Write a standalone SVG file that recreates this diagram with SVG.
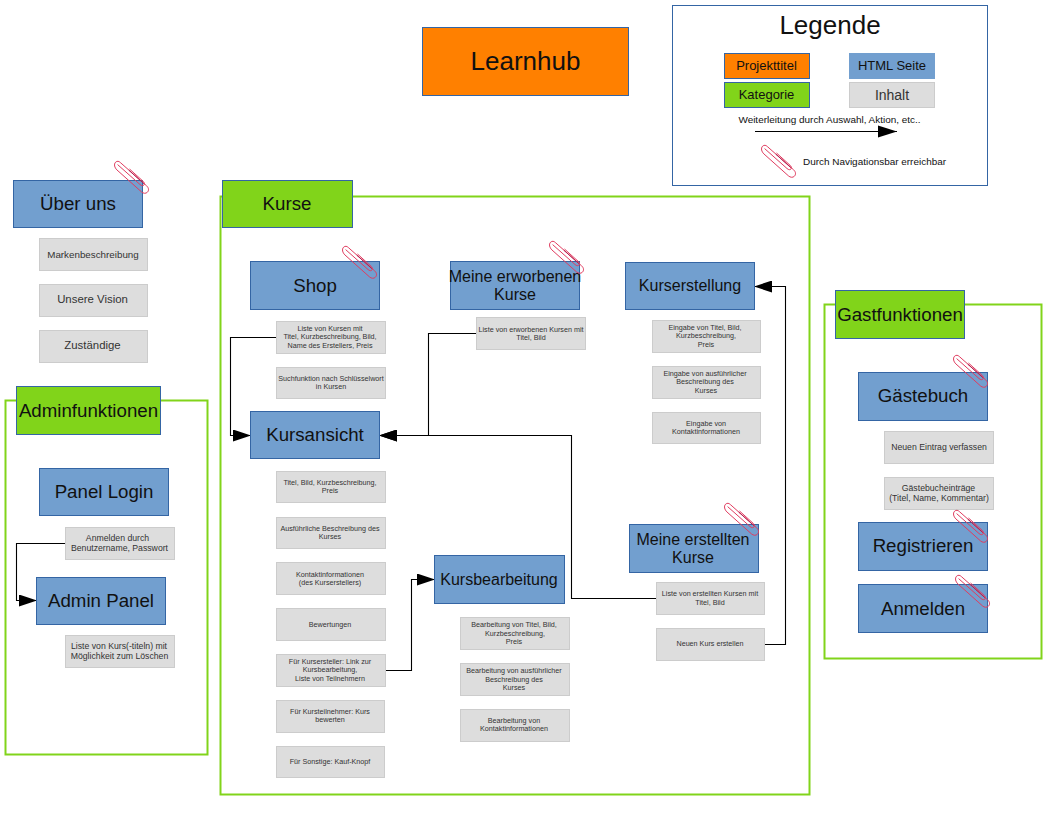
<svg xmlns="http://www.w3.org/2000/svg" xmlns:xlink="http://www.w3.org/1999/xlink" width="1056" height="816" viewBox="0 0 1056 816">
<style>
text{font-family:"Liberation Sans",Arial,sans-serif;text-anchor:middle;fill:#111}
.p rect{fill:#729fcf;stroke:#3465a4;stroke-width:1}
.k rect{fill:#81d41a;stroke:#3465a4;stroke-width:1}
.c rect{fill:#dddddd;stroke:#cccccc;stroke-width:1}
.p text,.k text{font-size:18.7px}
.c text{font-size:7.2px;fill:#333}
.f{fill:none;stroke:#81d41a;stroke-width:2}
.l{fill:none;stroke:#000;stroke-width:1.1}
.s16 text{font-size:16px}
.s13 text{font-size:13px}
.s86 text{font-size:8.7px}
</style>
<defs>
<marker id="a" markerUnits="userSpaceOnUse" markerWidth="18" markerHeight="12" refX="17" refY="6" orient="auto"><path d="M0 0L18 6L0 12Z" fill="#000"/></marker>
<g id="clip" fill="none" stroke="#e03c5f" stroke-width="1">
<path d="M1.6 1.2C3.2-.3 5 .2 6.3 1.5L32.6 24.8C35 27 35 29.6 33.4 31.2C31.8 32.8 29.4 32.6 27.4 30.8L3 9C.6 6.8-.4 3.2 1.6 1.2Z"/>
<path d="M3.6 3.6L26 23.5C27.6 25 29.2 25 30 24C30.8 23 30.4 21.4 29 20.2L15.5 8"/>
<path d="M14.8 9.2L29.8 22.6" stroke="#b02050"/>
</g>
</defs>
<g id="frames">
<rect class="f" x="220.500" y="196.500" width="589" height="598"/>
<rect class="f" x="5.500" y="400.500" width="202" height="354"/>
<rect class="f" x="824.500" y="304.500" width="217" height="354"/>
</g>
<g id="connectors">
<path class="l" d="M276 337.500H230.500V435.500H250" marker-end="url(#a)"/>
<path class="l" d="M476 333.500H428.500V435.500H380" marker-end="url(#a)"/>
<path class="l" d="M656 598.500H571.500V435.500H380" marker-end="url(#a)"/>
<path class="l" d="M737 644.500H785.500V286.500H755" marker-end="url(#a)"/>
<path class="l" d="M385 670.500H411.500V579.500H434" marker-end="url(#a)"/>
<path class="l" d="M65 543.500H16.500V600.500H36" marker-end="url(#a)"/>
</g>
<g id="title" class="p"><rect x="422.500" y="27.500" width="206" height="68" style="fill:#ff8000"/><text x="525.500" y="70" style="font-size:26px">Learnhub</text></g>
<g id="legend">
<rect x="672.500" y="5.500" width="315" height="180" fill="#fff" stroke="#3465a4"/>
<text x="830" y="34" font-size="26">Legende</text>
<g class="p s13"><rect x="724.500" y="53.500" width="85" height="25" style="fill:#ff8000"/><text x="766.500" y="70">Projekttitel</text></g>
<g class="p s13"><rect x="849.500" y="53.500" width="85" height="25" style="stroke:#729fcf"/><text x="892" y="70">HTML Seite</text></g>
<g class="k s13"><rect x="724.500" y="82.500" width="85" height="25"/><text x="766.500" y="99">Kategorie</text></g>
<g class="c"><rect x="849.500" y="82.500" width="85" height="25"/><text x="892" y="100" style="font-size:14px">Inhalt</text></g>
<text x="829.500" y="123" font-size="9.950" fill="#222">Weiterleitung durch Auswahl, Aktion, etc..</text>
<path d="M755 131.500H897" stroke="#000" fill="none"/><path d="M878 125.500L897 131.500L878 137.500Z" fill="#000"/>
<use xlink:href="#clip" x="761" y="145"/>
<text x="874.500" y="165" font-size="9.950" fill="#222">Durch Navigationsbar erreichbar</text>
</g>
<g id="ueber-uns" class="p"><rect x="13.500" y="180.500" width="129" height="47"/><text x="78" y="210">Über uns</text></g>
<g id="c1" class="c"><rect x="39.500" y="238.500" width="108" height="32"/><text x="93" y="258" style="font-size:9.800px">Markenbeschreibung</text></g>
<g id="c2" class="c"><rect x="39.500" y="284.500" width="108" height="32"/><text x="92.500" y="303" style="font-size:11.400px">Unsere Vision</text></g>
<g id="c3" class="c"><rect x="39.500" y="330.500" width="108" height="32"/><text x="92.500" y="349" style="font-size:11.400px">Zuständige</text></g>
<g id="kurse" class="k"><rect x="222.500" y="180.500" width="130" height="47"/><text x="287" y="210">Kurse</text></g>
<g id="shop" class="p"><rect x="250.500" y="261.500" width="129" height="48"/><text x="315" y="292">Shop</text></g>
<g id="c4" class="c"><rect x="276.500" y="321.500" width="109" height="32"/><text x="330" y="331">Liste von Kursen mit</text><text x="330" y="339">Titel, Kurzbeschreibung, Bild,</text><text x="330" y="348">Name des Erstellers, Preis</text></g>
<g id="c5" class="c"><rect x="276.500" y="367.500" width="109" height="31"/><text x="331" y="381">Suchfunktion nach Schlüsselwort</text><text x="331" y="389">in Kursen</text></g>
<g id="kursansicht" class="p"><rect x="250.500" y="411.500" width="129" height="47"/><text x="315" y="441">Kursansicht</text></g>
<g id="c6" class="c"><rect x="276.500" y="471.500" width="109" height="31"/><text x="330" y="485">Titel, Bild, Kurzbeschreibung,</text><text x="330" y="493">Preis</text></g>
<g id="c7" class="c"><rect x="276.500" y="517.500" width="109" height="31"/><text x="330" y="531">Ausführliche Beschreibung des</text><text x="330" y="539">Kurses</text></g>
<g id="c8" class="c"><rect x="276.500" y="562.500" width="109" height="32"/><text x="330" y="577">Kontaktinformationen</text><text x="330" y="585">(des Kurserstellers)</text></g>
<g id="c9" class="c"><rect x="276.500" y="608.500" width="109" height="32"/><text x="330" y="627">Bewertungen</text></g>
<g id="c10" class="c"><rect x="276.500" y="654.500" width="109" height="32"/><text x="330" y="664">Für Kursersteller: Link zur</text><text x="330" y="672">Kursbearbeitung,</text><text x="330" y="681">Liste von Teilnehmern</text></g>
<g id="c11" class="c"><rect x="276.500" y="700.500" width="108" height="32"/><text x="330" y="714">Für Kursteilnehmer: Kurs</text><text x="330" y="722">bewerten</text></g>
<g id="c12" class="c"><rect x="276.500" y="746.500" width="108" height="31"/><text x="330" y="764">Für Sonstige: Kauf-Knopf</text></g>
<g id="erworben" class="p s16"><rect x="450.500" y="261.500" width="129" height="48"/><text x="515" y="282">Meine erworbenen</text><text x="515" y="300">Kurse</text></g>
<g id="c13" class="c"><rect x="476.500" y="317.500" width="109" height="32"/><text x="531" y="332">Liste von erworbenen Kursen mit</text><text x="531" y="340">Titel, Bild</text></g>
<g id="kurserstellung" class="p s16"><rect x="625.500" y="262.500" width="129" height="47"/><text x="690" y="291">Kurserstellung</text></g>
<g id="c14" class="c"><rect x="652.500" y="320.500" width="108" height="32"/><text x="705" y="330">Eingabe von Titel, Bild,</text><text x="706" y="338">Kurzbeschreibung,</text><text x="706" y="347">Preis</text></g>
<g id="c15" class="c"><rect x="652.500" y="366.500" width="108" height="32"/><text x="705" y="376">Eingabe von ausführlicher</text><text x="705" y="384">Beschreibung des</text><text x="706" y="393">Kurses</text></g>
<g id="c16" class="c"><rect x="652.500" y="412.500" width="108" height="31"/><text x="706" y="426">Eingabe von</text><text x="706" y="434">Kontaktinformationen</text></g>
<g id="kursbearbeitung" class="p s16"><rect x="434.500" y="555.500" width="130" height="48"/><text x="499" y="585">Kursbearbeitung</text></g>
<g id="c17" class="c"><rect x="460.500" y="617.500" width="109" height="32"/><text x="514" y="627">Bearbeitung von Titel, Bild,</text><text x="515" y="636">Kurzbeschreibung,</text><text x="514" y="644">Preis</text></g>
<g id="c18" class="c"><rect x="460.500" y="663.500" width="109" height="32"/><text x="514" y="673">Bearbeitung von ausführlicher</text><text x="514" y="682">Beschreibung des</text><text x="514" y="690">Kurses</text></g>
<g id="c19" class="c"><rect x="460.500" y="709.500" width="109" height="32"/><text x="514" y="723">Bearbeitung von</text><text x="514" y="731">Kontaktinformationen</text></g>
<g id="erstellt" class="p s16"><rect x="629.500" y="524.500" width="129" height="48"/><text x="693" y="545">Meine erstellten</text><text x="693" y="563">Kurse</text></g>
<g id="c20" class="c"><rect x="656.500" y="582.500" width="108" height="32"/><text x="710" y="596">Liste von erstellten Kursen mit</text><text x="710" y="605">Titel, Bild</text></g>
<g id="c21" class="c"><rect x="656.500" y="628.500" width="108" height="32"/><text x="710" y="646">Neuen Kurs erstellen</text></g>
<g id="adminfunktionen" class="k"><rect x="16.500" y="386.500" width="144" height="48"/><text x="88.500" y="417">Adminfunktionen</text></g>
<g id="panel-login" class="p"><rect x="39.500" y="468.500" width="129" height="47"/><text x="104" y="498">Panel Login</text></g>
<g id="c22" class="c s86"><rect x="65.500" y="527.500" width="109" height="32"/><text x="117.500" y="541">Anmelden durch</text><text x="119.500" y="551">Benutzername, Passwort</text></g>
<g id="admin-panel" class="p"><rect x="36.500" y="577.500" width="129" height="47"/><text x="101" y="607">Admin Panel</text></g>
<g id="c23" class="c s86"><rect x="65.500" y="635.500" width="109" height="32"/><text x="119" y="649">Liste von Kurs(-titeln) mit</text><text x="119.500" y="659">Möglichkeit zum Löschen</text></g>
<g id="gastfunktionen" class="k"><rect x="835.500" y="290.500" width="129" height="48"/><text x="900" y="321">Gastfunktionen</text></g>
<g id="gaestebuch" class="p"><rect x="858.500" y="372.500" width="129" height="48"/><text x="923" y="402">Gästebuch</text></g>
<g id="c24" class="c s86"><rect x="884.500" y="431.500" width="109" height="32"/><text x="939" y="450">Neuen Eintrag verfassen</text></g>
<g id="c25" class="c s86"><rect x="884.500" y="477.500" width="109" height="32"/><text x="938.500" y="491">Gästebucheinträge</text><text x="939" y="501">(Titel, Name, Kommentar)</text></g>
<g id="registrieren" class="p"><rect x="858.500" y="522.500" width="129" height="48"/><text x="923" y="552">Registrieren</text></g>
<g id="anmelden" class="p"><rect x="858.500" y="584.500" width="129" height="48"/><text x="923" y="615">Anmelden</text></g>
<g id="clips">
<use xlink:href="#clip" x="114" y="161"/>
<use xlink:href="#clip" x="342" y="246"/>
<use xlink:href="#clip" x="549" y="241"/>
<use xlink:href="#clip" x="724" y="503"/>
<use xlink:href="#clip" x="953" y="355"/>
<use xlink:href="#clip" x="953" y="510"/>
<use xlink:href="#clip" x="955" y="575"/>
</g>
</svg>
